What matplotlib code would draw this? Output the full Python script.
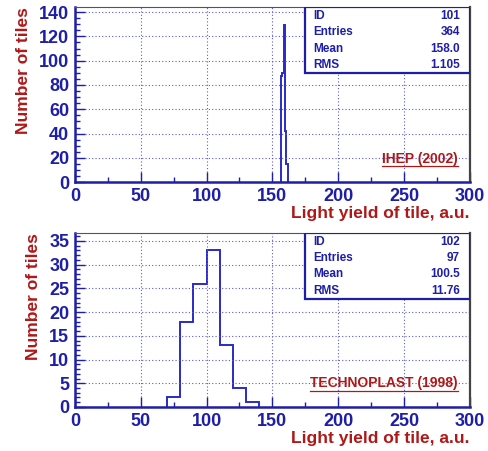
import numpy as np
import matplotlib.pyplot as plt
from matplotlib.ticker import MultipleLocator

# top histogram: IHEP (2002), narrow 1-unit bins
ihep_edges = [156.5, 157.5, 158.5, 159.5, 160.5, 161.5]
ihep_counts = [87, 90, 129, 42, 15]

# bottom histogram: TECHNOPLAST (1998), 10-unit bins
tech_edges = [70, 80, 90, 100, 110, 120, 130, 140]
tech_counts = [2, 18, 26, 33, 13, 4, 1]

ihep_stats = [("ID", "101"), ("Entries", "364"), ("Mean", "158.0"), ("RMS", "1.105")]
tech_stats = [("ID", "102"), ("Entries", "97"), ("Mean", "100.5"), ("RMS", "11.76")]

NAVY = "#1e1ea8"
HIST = "#2a2ac8"
RED = "#b01818"
GRID = "#5a5ad8"

plt.rcParams['font.family'] = ['Liberation Sans', 'DejaVu Sans']

fig = plt.figure(figsize=(4.89, 4.51), dpi=100)
ax1 = fig.add_axes([0.153, 0.596, 0.808, 0.388])
ax2 = fig.add_axes([0.153, 0.0976, 0.808, 0.386])


def draw(ax, edges, counts, ymax, ymaj, ymin, stats, tag):
    ax.stairs(counts, edges, color=HIST, lw=1.4)
    ax.set_xlim(0, 300)
    ax.set_ylim(0, ymax)
    ax.xaxis.set_major_locator(MultipleLocator(50))
    ax.xaxis.set_minor_locator(MultipleLocator(25))
    ax.yaxis.set_major_locator(MultipleLocator(ymaj))
    ax.yaxis.set_minor_locator(MultipleLocator(ymin))
    ax.grid(True, which='major', color=GRID, ls=(0, (1, 2)), lw=0.8)
    ax.tick_params(which='both', direction='in', colors=NAVY, width=1.0,
                   top=False, right=False)
    ax.tick_params(which='major', length=7, labelsize=13, pad=4)
    ax.tick_params(which='minor', length=3.5)
    for lab in ax.get_xticklabels() + ax.get_yticklabels():
        lab.set_fontweight('bold')
        lab.set_color(NAVY)
    ax.spines['left'].set_color(NAVY)
    ax.spines['bottom'].set_color(NAVY)
    ax.spines['left'].set_linewidth(1.8)
    ax.spines['bottom'].set_linewidth(1.8)
    ax.spines['top'].set_color('#555555')
    ax.spines['right'].set_color('#444444')
    ax.spines['right'].set_linewidth(1.6)

    ax.set_xlabel("Light yield of tile, a.u.", color=RED, fontweight='bold',
                  fontsize=12.5, loc='right', labelpad=1)
    ax.set_ylabel("Number of tiles", color=RED, fontweight='bold',
                  fontsize=12.5, loc='top', labelpad=6)

    # stats box
    bx0, by0 = 0.582, 0.623
    ax.add_patch(plt.Rectangle((bx0, by0), 1 - bx0, 1 - by0, transform=ax.transAxes,
                               facecolor='white', edgecolor=NAVY, lw=1.6, zorder=5))
    for i, (k, v) in enumerate(stats):
        y = 0.95 - i * 0.094
        ax.text(bx0 + 0.022, y, k, transform=ax.transAxes, color=NAVY,
                fontsize=8.5, fontweight='bold', ha='left', va='center', zorder=6)
        ax.text(0.975, y, v, transform=ax.transAxes, color=NAVY,
                fontsize=8.5, fontweight='bold', ha='right', va='center', zorder=6)

    t = ax.text(0.97, 0.135, tag, transform=ax.transAxes, color=RED,
                fontsize=10, fontweight='bold', ha='right', va='center')
    # underline
    fig.canvas.draw()
    bb = t.get_window_extent().transformed(ax.transAxes.inverted())
    ax.plot([bb.x0, bb.x1], [bb.y0 - 0.005, bb.y0 - 0.005], transform=ax.transAxes,
            color=RED, lw=0.9)


draw(ax1, ihep_edges, ihep_counts, 144, 20, 5, ihep_stats, "IHEP (2002)")
draw(ax2, tech_edges, tech_counts, 36.7, 5, 1, tech_stats, "TECHNOPLAST (1998)")

fig.savefig("out.png", dpi=100)
